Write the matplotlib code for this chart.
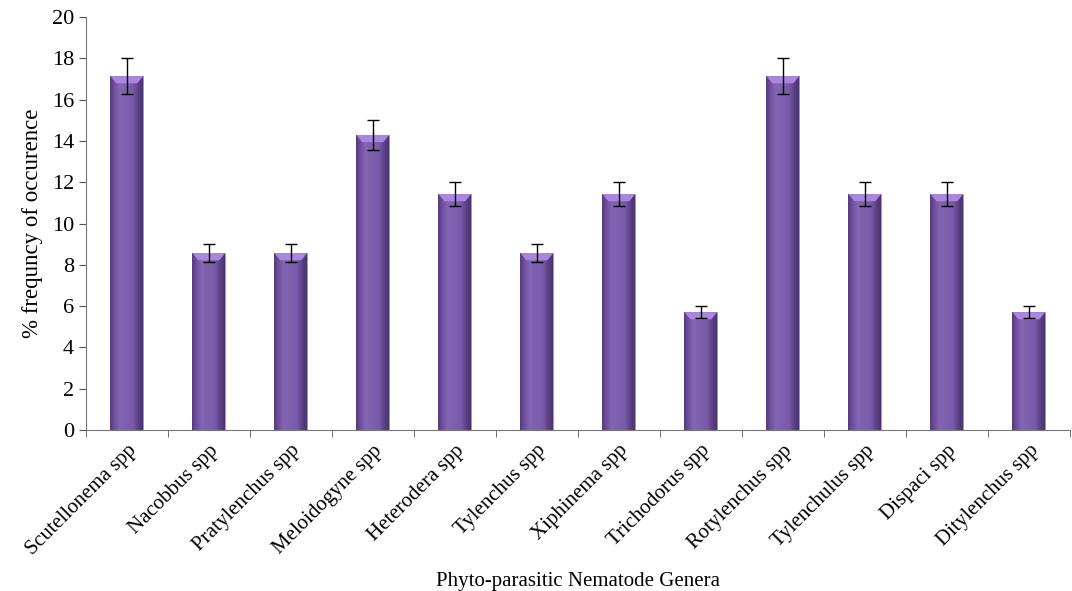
import numpy as np
import matplotlib.pyplot as plt
from matplotlib.colors import LinearSegmentedColormap

genera = ["Scutellonema spp", "Nacobbus spp", "Pratylenchus spp", "Meloidogyne spp",
          "Heterodera spp", "Tylenchus spp", "Xiphinema spp", "Trichodorus spp",
          "Rotylenchus spp", "Tylenchulus spp", "Dispaci spp", "Ditylenchus spp"]
freq = [17.14, 8.57, 8.57, 14.29, 11.43, 8.57, 11.43, 5.71, 17.14, 11.43, 11.43, 5.71]
err = [0.86, 0.43, 0.43, 0.71, 0.57, 0.43, 0.57, 0.29, 0.86, 0.57, 0.57, 0.29]

plt.rcParams['font.family'] = ['Liberation Serif', 'DejaVu Serif']

fig = plt.figure(figsize=(10.72, 5.91), dpi=100)
ax = fig.add_axes([0.080, 0.2724, 0.918, 0.6988])

x = np.arange(len(genera))
width = 0.40

# cylinder-like shading for each bar
cmap = LinearSegmentedColormap.from_list(
    "purp", ["#4f3576", "#6e4f9c", "#8566b5", "#7a5aaa", "#5a3f84", "#46306a"])
grad = np.tile(np.concatenate([np.linspace(0.05, 0.45, 22),
                               np.linspace(0.45, 0.6, 22),
                               np.linspace(0.6, 0.95, 20)]), (2, 1))

bars = ax.bar(x, freq, width, color="#7e5bae", edgecolor="#9a9aa8", linewidth=0.6, zorder=2)
for b in bars:
    x0, y0 = b.get_x(), b.get_y()
    w, h = b.get_width(), b.get_height()
    im = ax.imshow(grad, cmap=cmap, aspect="auto", extent=[x0, x0 + w, y0, y0 + h],
                   zorder=2.5, vmin=0, vmax=1)
    im.set_clip_path(b)
    # light bevel at top
    ax.fill([x0, x0 + w, x0 + w * 0.82, x0 + w * 0.18], [h, h, h - 0.35, h - 0.35],
            color="#a887dc", zorder=2.6, lw=0)

ax.errorbar(x, freq, yerr=err, fmt="none", ecolor="black", elinewidth=1, capsize=4,
            capthick=1, zorder=3)

ax.set_xlim(-0.5, len(genera) - 0.5)
ax.set_ylim(0, 20)
ax.set_yticks(range(0, 21, 2))
ax.set_xticks(x)
ax.set_xticklabels(genera, rotation=45, ha="right", rotation_mode="anchor", fontsize=15)
ax.set_xticks(np.arange(-0.5, len(genera), 1), minor=True)
ax.tick_params(axis="x", which="major", length=0, pad=8)
ax.tick_params(axis="x", which="minor", length=5, direction="out", color="#555555")
ax.tick_params(axis="y", length=5, direction="out", color="#555555", labelsize=16)

for s in ["top", "right"]:
    ax.spines[s].set_visible(False)
for s in ["left", "bottom"]:
    ax.spines[s].set_color("#777777")

ax.set_ylabel("% frequncy of occurence", fontsize=16.5, labelpad=6)
ax.set_xlabel("Phyto-parasitic Nematode Genera", fontsize=15, labelpad=9)

fig.savefig("out.png", dpi=100)
